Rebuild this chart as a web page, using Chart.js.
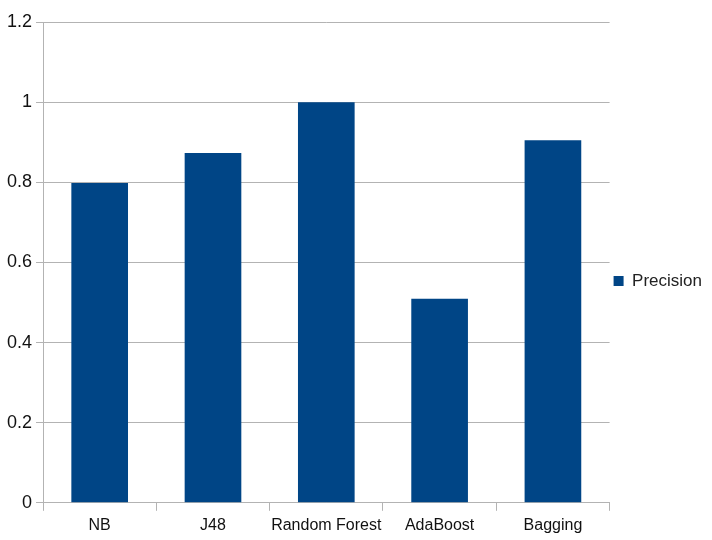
<!DOCTYPE html>
<html>
<head>
<meta charset="utf-8">
<script src="https://cdn.jsdelivr.net/npm/chart.js@4"></script>
<style>
  html, body { margin: 0; padding: 0; background: #fff; }
  #wrap { width: 712px; height: 540px; }
</style>
</head>
<body>
<div id="wrap"><canvas id="chart"></canvas></div>
<script>
const categories = ["NB", "J48", "Random Forest", "AdaBoost", "Bagging"];
const precision = [0.798, 0.873, 1.0, 0.509, 0.905];
const yTicks = [0, 0.2, 0.4, 0.6, 0.8, 1, 1.2];

const gridGrey = "#b3b3b3";
const fontFamily = "'Liberation Sans Narrow', 'Liberation Sans', sans-serif";

const ctx = document.getElementById("chart").getContext("2d");
new Chart(ctx, {
  type: "bar",
  data: {
    labels: categories,
    datasets: [
      {
        label: "Precision",
        data: precision,
        backgroundColor: "#004586",
        borderWidth: 0,
        categoryPercentage: 0.5,
        barPercentage: 1.0,
      },
    ],
  },
  options: {
    responsive: true,
    maintainAspectRatio: false,
    animation: false,
    layout: { padding: { top: 22, left: 3, right: 0, bottom: 0 } },
    plugins: {
      tooltip: { enabled: false },
      legend: {
        position: "right",
        labels: {
          boxWidth: 10,
          boxHeight: 10,
          padding: 4,
          color: "#222",
          font: { family: fontFamily, size: 17 },
        },
      },
    },
    scales: {
      x: {
        grid: {
          offset: true,
          color: (c) => (c.index === categories.length ? gridGrey : "transparent"),
          tickColor: gridGrey,
          tickLength: 8,
        },
        border: { color: gridGrey },
        ticks: {
          color: "#111",
          padding: 5,
          maxRotation: 0,
          autoSkip: false,
          font: { family: fontFamily, size: 16 },
        },
      },
      y: {
        min: 0,
        max: 1.2,
        afterBuildTicks: (axis) => {
          axis.ticks = yTicks.map((v) => ({ value: v }));
        },
        grid: { color: gridGrey, tickColor: gridGrey, tickLength: 7 },
        border: { color: gridGrey },
        ticks: {
          color: "#111",
          padding: 4,
          font: { family: fontFamily, size: 18 },
          callback: (v) => String(parseFloat(Number(v).toFixed(1))),
        },
      },
    },
  },
});
</script>
</body>
</html>
